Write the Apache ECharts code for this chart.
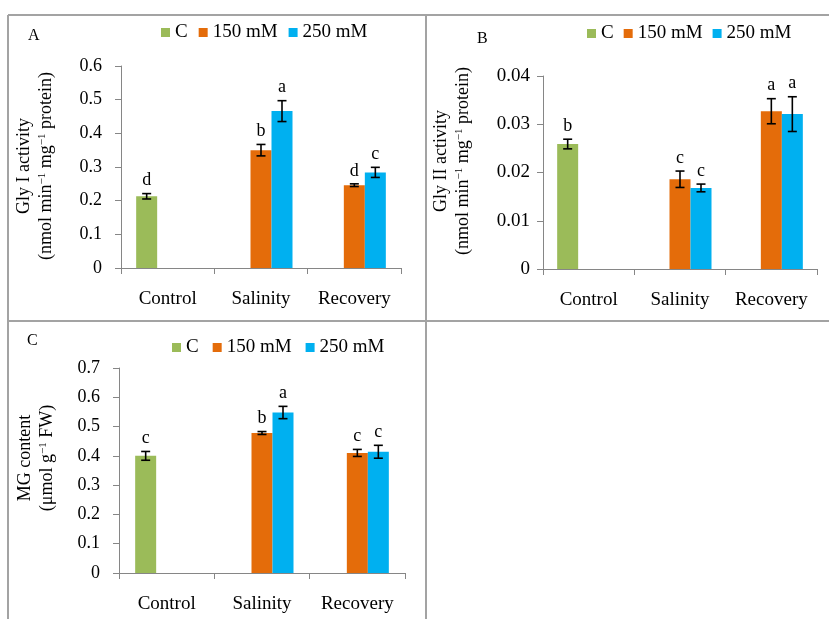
<!DOCTYPE html>
<html>
<head>
<meta charset="utf-8">
<script src="https://cdn.jsdelivr.net/npm/echarts@6/dist/echarts.min.js"></script>
<style>
html,body{margin:0;padding:0;background:#fff;}
#main{width:829px;height:619px;}
</style>
</head>
<body>
<div id="main"></div>
<script>
// ---------- data ----------
const categories = ['Control', 'Salinity', 'Recovery'];
const seriesNames = ['C', '150 mM', '250 mM'];

// Panel A: Gly I activity
const glyI_C   = [0.213, null, null];
const glyI_150 = [null, 0.350, 0.246];
const glyI_250 = [null, 0.466, 0.284];
const glyI_C_err   = [0.008, null, null];
const glyI_150_err = [null, 0.017, 0.004];
const glyI_250_err = [null, 0.031, 0.015];
const glyI_C_sig   = ['d', null, null];
const glyI_150_sig = [null, 'b', 'd'];
const glyI_250_sig = [null, 'a', 'c'];

// Panel B: Gly II activity
const glyII_C   = [0.0259, null, null];
const glyII_150 = [null, 0.0186, 0.0327];
const glyII_250 = [null, 0.0168, 0.0321];
const glyII_C_err   = [0.0010, null, null];
const glyII_150_err = [null, 0.0017, 0.0026];
const glyII_250_err = [null, 0.0008, 0.0036];
const glyII_C_sig   = ['b', null, null];
const glyII_150_sig = [null, 'c', 'a'];
const glyII_250_sig = [null, 'c', 'a'];

// Panel C: MG content
const mg_C   = [0.400, null, null];
const mg_150 = [null, 0.478, 0.410];
const mg_250 = [null, 0.548, 0.414];
const mg_C_err   = [0.015, null, null];
const mg_150_err = [null, 0.005, 0.012];
const mg_250_err = [null, 0.021, 0.022];
const mg_C_sig   = ['c', null, null];
const mg_150_sig = [null, 'b', 'c'];
const mg_250_sig = [null, 'a', 'c'];

// axis ranges
const axisA = {min: 0, max: 0.6, interval: 0.1};
const axisB = {min: 0, max: 0.04, interval: 0.01};
const axisC = {min: 0, max: 0.7, interval: 0.1};

const panelLetters = ['A', 'B', 'C'];
const yTitlesA = ['Gly I activity', 'nmol min', 'mg', 'protein'];
const yTitlesB = ['Gly II activity', 'nmol min', 'mg', 'protein'];
const yTitlesC = ['MG content', 'μmol g', 'FW'];

// ---------- styling ----------
const serif = '"Liberation Serif", "Times New Roman", serif';
const colors = ['#9BBB59', '#E46C0A', '#00B0F0'];
const BAR_W = 21;
const axisGray = '#868686';
const frameGray = '#a3a3a3';

const panels = [
  {
    values: [glyI_C, glyI_150, glyI_250],
    errs: [glyI_C_err, glyI_150_err, glyI_250_err],
    sigs: [glyI_C_sig, glyI_150_sig, glyI_250_sig],
    axis: axisA,
    grid: {left: 121, right: 428, top: 66, bottom: 351},
    legend: {left: 161, top: 23, gap: 11},
    tickFont: 18, tickMargin: 19,
    title: '{t|' + yTitlesA[0] + '}\n{t|(' + yTitlesA[1] + '}{s|−1}{t| ' + yTitlesA[2] + '}{s|−1}{t| ' + yTitlesA[3] + ')}',
    titlePos: [35, 166],
    letterPos: [28, 28]
  },
  {
    values: [glyII_C, glyII_150, glyII_250],
    errs: [glyII_C_err, glyII_150_err, glyII_250_err],
    sigs: [glyII_C_sig, glyII_150_sig, glyII_250_sig],
    axis: axisB,
    grid: {left: 543, right: 12, top: 76, bottom: 350},
    legend: {left: 587, top: 24, gap: 10},
    tickFont: 19, tickMargin: 13,
    title: '{t|' + yTitlesB[0] + '}\n{t|(' + yTitlesB[1] + '}{s|−1}{t| ' + yTitlesB[2] + '}{s|−1}{t| ' + yTitlesB[3] + ')}',
    titlePos: [452, 161],
    letterPos: [477, 31]
  },
  {
    values: [mg_C, mg_150, mg_250],
    errs: [mg_C_err, mg_150_err, mg_250_err],
    sigs: [mg_C_sig, mg_150_sig, mg_250_sig],
    axis: axisC,
    grid: {left: 119, right: 424, top: 368, bottom: 46},
    legend: {left: 172, top: 338, gap: 14},
    tickFont: 18, tickMargin: 19,
    title: '{t|' + yTitlesC[0] + '}\n{t|(' + yTitlesC[1] + '}{s|−1}{t| ' + yTitlesC[2] + ')}',
    titlePos: [36, 458],
    letterPos: [27, 333]
  }
];

const grids = [], xAxes = [], yAxes = [], legends = [], series = [], graphics = [];

panels.forEach((p, gi) => {
  grids.push(Object.assign({containLabel: false}, p.grid));
  xAxes.push({
    type: 'category', gridIndex: gi, data: categories,
    axisLine: {lineStyle: {color: axisGray, width: 1}},
    axisTick: {show: true, length: 6, lineStyle: {color: axisGray}},
    axisLabel: {color: '#000', fontFamily: serif, fontSize: 19, margin: 22, interval: 0, hideOverlap: false},
    splitLine: {show: false}
  });
  yAxes.push({
    type: 'value', gridIndex: gi, min: p.axis.min, max: p.axis.max, interval: p.axis.interval,
    axisLine: {show: true, lineStyle: {color: axisGray, width: 1}},
    axisTick: {show: true, length: 6, lineStyle: {color: axisGray}},
    axisLabel: {color: '#000', fontFamily: serif, fontSize: p.tickFont, margin: p.tickMargin},
    splitLine: {show: false}
  });
  legends.push({
    left: p.legend.left, top: p.legend.top, orient: 'horizontal', padding: 0,
    data: seriesNames, icon: 'rect', itemWidth: 9, itemHeight: 9, itemGap: p.legend.gap,
    textStyle: {color: '#000', fontFamily: serif, fontSize: 19},
    selectedMode: false
  });
  seriesNames.forEach((nm, k) => {
    series.push({
      name: nm, type: 'bar', xAxisIndex: gi, yAxisIndex: gi,
      data: p.values[k].map(v => v == null ? '-' : v),
      barWidth: BAR_W, barGap: '0%',
      itemStyle: {color: colors[k]},
      silent: true
    });
  });
  seriesNames.forEach((nm, k) => {
    const data = [];
    p.values[k].forEach((v, i) => { if (v != null) data.push([i, v, p.errs[k][i]]); });
    series.push({
      type: 'custom', xAxisIndex: gi, yAxisIndex: gi, z: 10, silent: true,
      encode: {x: 0, y: 1},
      data: data,
      renderItem: function (params, api) {
        const ci = api.value(0), v = api.value(1), e = api.value(2);
        let off = (k - 1) * BAR_W;
        if (typeof api.barLayout === 'function') {
          const bl = api.barLayout({count: 3, barWidth: BAR_W, barGap: '0%'});
          if (bl && bl[k]) off = bl[k].offsetCenter;
        }
        const t = api.coord([ci, v + e]);
        const b = api.coord([ci, v - e]);
        const x = t[0] + off;
        const cap = 4.5;
        const ls = {stroke: '#000', lineWidth: 1.6};
        const sig = p.sigs[k][ci];
        return {
          type: 'group',
          children: [
            {type: 'line', shape: {x1: x, y1: t[1], x2: x, y2: b[1]}, style: ls},
            {type: 'line', shape: {x1: x - cap, y1: t[1], x2: x + cap, y2: t[1]}, style: ls},
            {type: 'line', shape: {x1: x - cap, y1: b[1], x2: x + cap, y2: b[1]}, style: ls},
            {type: 'text', style: {text: sig || '', x: x, y: t[1] - 4, align: 'center', verticalAlign: 'bottom',
              font: '18px ' + serif, fill: '#000'}}
          ]
        };
      }
    });
  });
  graphics.push({
    type: 'text', x: p.titlePos[0], y: p.titlePos[1], rotation: Math.PI / 2,
    style: {
      text: p.title, align: 'center', verticalAlign: 'middle', fill: '#000',
      font: '18px ' + serif,
      rich: {
        t: {fontFamily: serif, fontSize: 18, lineHeight: 22, fill: '#000'},
        s: {fontFamily: serif, fontSize: 11, lineHeight: 22, padding: [0, 0, 8, 0], fill: '#000'}
      }
    }
  });
  graphics.push({
    type: 'text', x: p.letterPos[0], y: p.letterPos[1],
    style: {text: panelLetters[gi], font: '16px ' + serif, fill: '#000', align: 'left', verticalAlign: 'top'}
  });
});

// panel frame lines
const frameStyle = {stroke: frameGray, lineWidth: 2};
graphics.push({type: 'line', shape: {x1: 8, y1: 15, x2: 829, y2: 15}, style: frameStyle});
graphics.push({type: 'line', shape: {x1: 8, y1: 15, x2: 8, y2: 619}, style: frameStyle});
graphics.push({type: 'line', shape: {x1: 426, y1: 15, x2: 426, y2: 619}, style: frameStyle});
graphics.push({type: 'line', shape: {x1: 8, y1: 321, x2: 829, y2: 321}, style: frameStyle});

const chart = echarts.init(document.getElementById('main'), null, {renderer: 'canvas'});
chart.setOption({
  animation: false,
  backgroundColor: '#fff',
  grid: grids, xAxis: xAxes, yAxis: yAxes, legend: legends,
  series: series,
  graphic: graphics
});
</script>
</body>
</html>
